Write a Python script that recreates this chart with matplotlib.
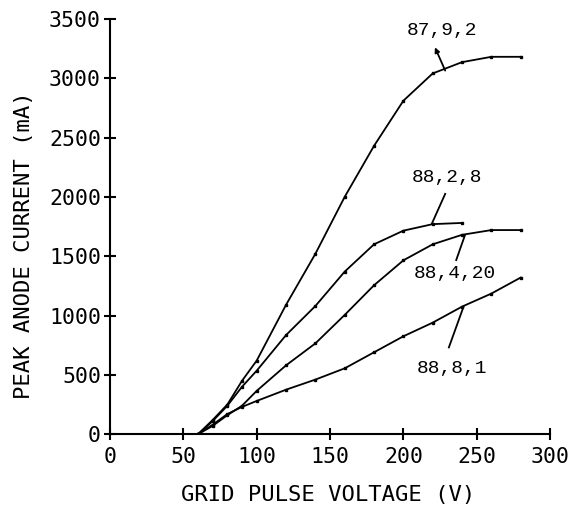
import numpy as np
import matplotlib
matplotlib.use('Agg')
import matplotlib.pyplot as plt

# grid pulse voltage (V) at the plotted points
volts = [60, 70, 80, 90, 100, 120, 140, 160, 180, 200, 220, 240, 260, 280]
volts_282 = [60, 70, 80, 90, 100, 120, 140, 160, 180, 200, 220, 240]

# peak anode current (mA)
cur_8792 = [0, 120, 250, 450, 620, 1090, 1520, 2000, 2430, 2810, 3040, 3135, 3180, 3180]
cur_8828 = [0, 110, 240, 400, 535, 835, 1080, 1370, 1600, 1715, 1770, 1780]
cur_88420 = [0, 70, 160, 240, 365, 580, 765, 1005, 1255, 1465, 1600, 1680, 1720, 1720]
cur_8881 = [0, 80, 170, 230, 280, 375, 460, 555, 690, 825, 940, 1075, 1185, 1320]

labels = ['87,9,2', '88,2,8', '88,4,20', '88,8,1']
# label position, pointer start, pointer end (V, mA)
label_pos = [(226, 3405), (230, 2160), (235, 1350), (233, 557)]
ptr_from = [(221.5, 3260), (228.5, 2025), (236, 1467), (231, 731)]
ptr_to = [(228.5, 3064), (219.5, 1777), (242, 1678), (241, 1074)]

xticks = [0, 50, 100, 150, 200, 250, 300]
yticks = [0, 500, 1000, 1500, 2000, 2500, 3000, 3500]

plt.rcParams['font.family'] = 'DejaVu Sans Mono'

fig = plt.figure(figsize=(5.73, 5.09), dpi=100)
ax = fig.add_axes([0.192, 0.147, 0.768, 0.816])

for x, y in [(volts, cur_8792), (volts_282, cur_8828), (volts, cur_88420), (volts, cur_8881)]:
    ax.plot(x, y, color='black', lw=1.3, marker='s', ms=2.0, mec='black', mfc='black')

for i in range(len(labels)):
    ax.text(label_pos[i][0], label_pos[i][1], labels[i], ha='center', va='center',
            fontsize=14, family='Liberation Mono', color='black')
    if i == 0:
        ax.annotate('', xy=ptr_from[i], xytext=ptr_to[i],
                    arrowprops=dict(arrowstyle='-|>', color='black', lw=1.3,
                                    mutation_scale=7, shrinkA=0, shrinkB=0))
    else:
        ax.plot([ptr_from[i][0], ptr_to[i][0]], [ptr_from[i][1], ptr_to[i][1]],
                color='black', lw=1.3)

ax.set_xlim(0, 300)
ax.set_ylim(0, 3500)
ax.set_xticks(xticks)
ax.set_yticks(yticks)
ax.spines['top'].set_visible(False)
ax.spines['right'].set_visible(False)
ax.spines['left'].set_linewidth(1.5)
ax.spines['bottom'].set_linewidth(1.5)
ax.tick_params(direction='inout', length=9, width=1.5, labelsize=15.5)
ax.tick_params(axis='x', pad=5)
ax.tick_params(axis='y', pad=2)
ax.set_xlabel('GRID PULSE VOLTAGE (V)', fontsize=16)
ax.set_ylabel('PEAK ANODE CURRENT (mA)', fontsize=16)
ax.xaxis.set_label_coords(0.495, -0.122)
ax.yaxis.set_label_coords(-0.173, 0.455)

fig.savefig('out.png', dpi=100)
